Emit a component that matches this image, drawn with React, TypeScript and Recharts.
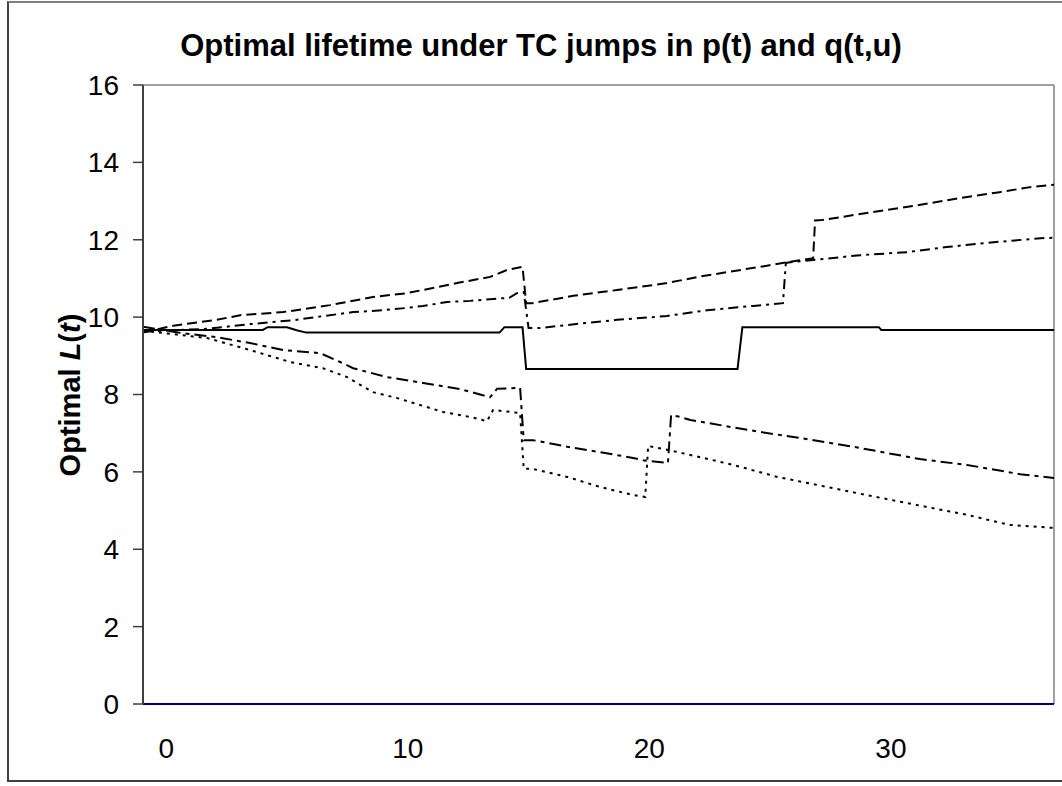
import React from "react";
import { LineChart, Line, XAxis, YAxis, ReferenceLine } from "recharts";

const FONT = "Arial, 'Liberation Sans', sans-serif";

const X_TICKS = [0, 10, 20, 30];
const Y_TICKS = [0, 2, 4, 6, 8, 10, 12, 14, 16];
const T_MIN = -0.96;
const T_MAX = 36.75;

// [t, L(t)] pairs
const SOLID: [number, number][] = [
  [-0.96, 9.67], [4.0, 9.67], [4.2, 9.74], [5.0, 9.74], [5.4, 9.66], [5.8, 9.6],
  [13.8, 9.6], [14.0, 9.74], [14.75, 9.74], [14.9, 8.66], [23.65, 8.66], [23.85, 9.74],
  [29.5, 9.74], [29.6, 9.67], [36.75, 9.67],
];

const LONG_DASH: [number, number][] = [
  [-0.96, 9.6], [0.3, 9.78], [2.1, 9.93], [3.06, 10.05], [4.84, 10.13], [6.78, 10.31],
  [8.56, 10.52], [9.97, 10.62], [12.04, 10.88], [13.41, 11.04], [14.11, 11.22], [14.75, 11.3],
  [14.9, 10.36], [15.15, 10.36], [16.85, 10.55], [18.66, 10.7], [20.73, 10.88], [22.1, 11.05],
  [24.87, 11.33], [26.1, 11.46], [26.78, 11.52], [26.86, 12.5], [27.14, 12.51], [29.0, 12.69],
  [30.9, 12.87], [32.86, 13.08], [34.5, 13.23], [35.76, 13.36], [36.75, 13.42],
];

const DASH_DOT: [number, number][] = [
  [-0.96, 9.62], [1.7, 9.7], [3.5, 9.82], [5.25, 9.92], [6.78, 10.05], [7.74, 10.13],
  [9.0, 10.18], [10.0, 10.24], [10.63, 10.29], [11.63, 10.39], [12.58, 10.42], [13.53, 10.47],
  [14.2, 10.5], [14.52, 10.62], [14.8, 10.65], [15.0, 9.72], [15.48, 9.72], [17.4, 9.85],
  [18.66, 9.93], [20.73, 10.03], [22.4, 10.18], [24.3, 10.29], [25.53, 10.36], [25.65, 11.4],
  [25.83, 11.42], [28.72, 11.6], [30.67, 11.68], [32.3, 11.81], [33.98, 11.92], [36.2, 12.04],
  [36.75, 12.05],
];

const DASH_DOT_LOW: [number, number][] = [
  [-0.96, 9.75], [0.5, 9.6], [2.1, 9.48], [3.47, 9.33], [4.84, 9.15], [6.37, 9.07],
  [7.2, 8.84], [7.74, 8.68], [9.14, 8.45], [10.63, 8.3], [12.17, 8.14], [13.41, 7.93],
  [13.7, 8.15], [14.65, 8.17], [14.8, 6.82], [15.19, 6.82], [16.6, 6.65], [17.96, 6.51],
  [19.33, 6.36], [19.74, 6.3], [20.77, 6.23], [20.9, 7.47], [21.27, 7.42], [21.7, 7.34],
  [24.6, 7.03], [26.2, 6.88], [28.7, 6.62], [31.2, 6.33], [33.15, 6.18], [35.35, 5.94],
  [36.75, 5.84],
];

const DOTTED: [number, number][] = [
  [-0.96, 9.65], [1.69, 9.46], [3.47, 9.15], [5.13, 8.84], [6.49, 8.68], [7.49, 8.45],
  [8.03, 8.25], [8.56, 8.06], [9.55, 7.91], [10.5, 7.73], [11.46, 7.55], [12.58, 7.42],
  [13.28, 7.31], [13.53, 7.6], [14.65, 7.52], [14.8, 6.08], [15.15, 6.08], [16.6, 5.87],
  [17.96, 5.61], [19.33, 5.4], [19.83, 5.35], [19.95, 6.67], [20.9, 6.55], [22.1, 6.38],
  [23.47, 6.18], [25.3, 5.87], [27.2, 5.63], [29.0, 5.4], [31.1, 5.14], [33.15, 4.89],
  [34.9, 4.63], [36.75, 4.55],
];

const toRows = (pts: [number, number][]) => pts.map(([t, v]) => ({ t, v }));

const SERIES = [
  { name: "solid", pts: SOLID, dash: undefined as string | undefined },
  { name: "longDash", pts: LONG_DASH, dash: "10 5" },
  { name: "dashDot", pts: DASH_DOT, dash: "10 5 3 5" },
  { name: "dashDotLow", pts: DASH_DOT_LOW, dash: "12 5 4 5" },
  { name: "dotted", pts: DOTTED, dash: "3 5" },
];

export default function App() {
  return (
    <div style={{ position: "absolute", left: 0, top: 0, width: 1062, height: 786, fontFamily: FONT, background: "#fff" }}>
      <div
        style={{
          position: "absolute",
          left: 7,
          top: 1,
          width: 1062,
          height: 781,
          borderLeft: "2px solid #404040",
          borderTop: "2px solid #808080",
          borderBottom: "2px solid #404040",
          boxSizing: "border-box",
        }}
      />
      <div
        style={{
          position: "absolute",
          left: 0,
          top: 30,
          width: 1082,
          textAlign: "center",
          fontSize: 31,
          lineHeight: 1,
          fontWeight: "bold",
          whiteSpace: "nowrap",
        }}
      >
        Optimal lifetime under TC jumps in p(t) and q(t,u)
      </div>
      <div
        style={{
          position: "absolute",
          left: 70,
          top: 395,
          transform: "translate(-50%, -50%) rotate(-90deg)",
          fontSize: 29,
          lineHeight: 1,
          fontWeight: "bold",
          whiteSpace: "nowrap",
        }}
      >
        Optimal <i>L</i>(<i>t</i>)
      </div>
      <LineChart width={1062} height={786} margin={{ top: 85, right: 8, bottom: 22, left: 0 }}>
        <XAxis
          type="number"
          dataKey="t"
          domain={[T_MIN, T_MAX]}
          ticks={X_TICKS}
          allowDataOverflow
          axisLine={false}
          tickLine={false}
          tickSize={0}
          tickMargin={34}
          height={60}
          tick={{ fill: "#000", fontSize: 28, fontFamily: FONT }}
        />
        <YAxis
          type="number"
          domain={[0, 16]}
          ticks={Y_TICKS}
          interval={0}
          width={143}
          tickSize={10}
          tickMargin={14}
          axisLine={{ stroke: "#404040", strokeWidth: 2 }}
          tickLine={{ stroke: "#404040", strokeWidth: 1.5 }}
          tick={{ fill: "#000", fontSize: 28, fontFamily: FONT }}
        />
        <ReferenceLine y={16} stroke="#808080" strokeWidth={1.5} />
        <ReferenceLine x={T_MAX} stroke="#808080" strokeWidth={1.5} />
        {SERIES.map((s) => (
          <Line
            key={s.name}
            data={toRows(s.pts)}
            dataKey="v"
            type="linear"
            stroke="#000"
            strokeWidth={2}
            strokeDasharray={s.dash}
            dot={false}
            isAnimationActive={false}
          />
        ))}
        <ReferenceLine y={0} stroke="#000080" strokeWidth={2} />
      </LineChart>
    </div>
  );
}
